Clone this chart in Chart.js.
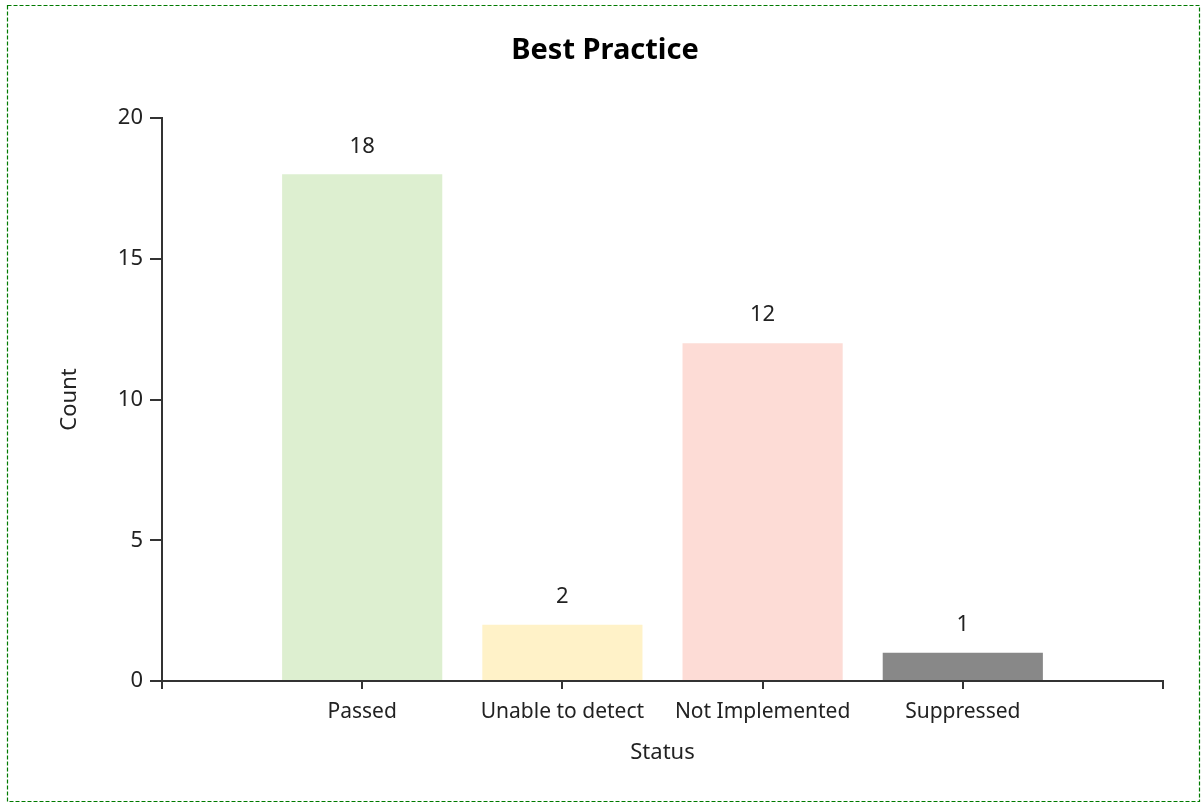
<!DOCTYPE html>
<html>
<head>
<meta charset="utf-8">
<script src="https://cdn.jsdelivr.net/npm/chart.js@4.4.1/dist/chart.umd.min.js"></script>
<style>
  html, body { margin: 0; padding: 0; background: #fff; }
  #wrap { position: relative; width: 1203px; height: 804px; }
  #frame { position: absolute; left: 0; top: 0; pointer-events: none; }
</style>
</head>
<body>
<div id="wrap">
  <canvas id="bestPracticeChart" width="1203" height="804"></canvas>
  <svg id="frame" width="1203" height="804">
    <rect x="7.5" y="5.5" width="1192" height="796" fill="none" stroke="#007a00" stroke-width="1.2" stroke-dasharray="4 2"/>
  </svg>
</div>
<script>
// ------------------ Data ------------------
const statuses = ["Passed", "Unable to detect", "Not Implemented", "Suppressed"];
const counts = [18, 2, 12, 1];
const barColors = ["#ddefd0", "#fff2c8", "#fddcd6", "#888888"];
const yTicks = [0, 5, 10, 15, 20];

const FONT = "'Noto Sans', 'Open Sans', sans-serif";
const INK = "#222";
const AXIS = "#333";

// blank slots at both ends so the axis runs one step past the bars
const labels = ["", ...statuses, ""];
const values = [null, ...counts, null];
const colors = ["#fff", ...barColors, "#fff"];

// centred title over the whole canvas + value labels over each bar
const decorations = {
    id: "decorations",
    afterDraw(chart) {
        const { ctx } = chart;
        ctx.save();
        ctx.fillStyle = "#000";
        ctx.textAlign = "center";
        ctx.textBaseline = "middle";
        ctx.font = `bold 29px ${FONT}`;
        ctx.fillText("Best Practice", 605, 51);

        ctx.font = `22px ${FONT}`;
        ctx.fillStyle = INK;
        const meta = chart.getDatasetMeta(0);
        meta.data.forEach((bar, i) => {
            if (values[i] == null) return;
            ctx.fillText(String(values[i]), bar.x, bar.y - 28);
        });
        ctx.restore();
    }
};

new Chart(document.getElementById("bestPracticeChart"), {
    type: "bar",
    data: {
        labels,
        datasets: [{
            label: "Count",
            data: values,
            backgroundColor: colors,
            borderWidth: 0,
            barPercentage: 0.8,
            categoryPercentage: 1.0
        }]
    },
    options: {
        responsive: false,
        animation: false,
        layout: { padding: { left: 0, right: 40, top: 118, bottom: 0 } },
        plugins: {
            legend: { display: false },
            tooltip: { enabled: false },
            title: { display: false }
        },
        scales: {
            x: {
                offset: false,
                afterFit: scale => { scale.height = 123; },
                border: { display: true, color: AXIS, width: 2 },
                grid: { offset: false, drawOnChartArea: false, drawTicks: true, tickLength: 8, color: AXIS, lineWidth: 2 },
                ticks: {
                    color: INK,
                    padding: 10,
                    autoSkip: false,
                    maxRotation: 0,
                    font: { family: FONT, size: 21 }
                },
                title: {
                    display: true,
                    text: "Status",
                    color: INK,
                    font: { family: FONT, size: 22 },
                    padding: { top: 0, bottom: 38 }
                }
            },
            y: {
                min: 0,
                max: 20,
                afterFit: scale => { scale.width = 162; },
                afterBuildTicks: scale => { scale.ticks = yTicks.map(v => ({ value: v })); },
                border: { display: true, color: AXIS, width: 2 },
                grid: { drawOnChartArea: false, drawTicks: true, tickLength: 12, color: AXIS, lineWidth: 2 },
                ticks: {
                    color: INK,
                    padding: 7,
                    font: { family: FONT, size: 22 }
                },
                title: {
                    display: true,
                    text: "Count",
                    color: INK,
                    font: { family: FONT, size: 22 },
                    padding: { top: 57, bottom: 0 }
                }
            }
        }
    },
    plugins: [decorations]
});
</script>
</body>
</html>
